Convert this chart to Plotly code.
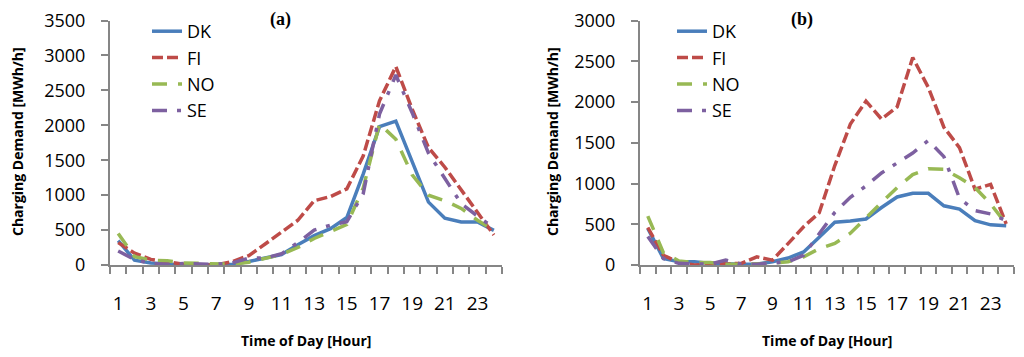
import plotly.graph_objects as go

hours = list(range(1, 25))
tick_hours = list(range(1, 24, 2))

# Panel (a)
dk_a = [350, 70, 30, 10, 0, 0, 0, 10, 50, 100, 150, 290, 420, 520, 680, 1300, 1980, 2060, 1480, 900, 670, 615, 615, 495]
fi_a = [320, 170, 80, 40, 10, 0, 0, 50, 135, 300, 470, 640, 920, 980, 1090, 1560, 2350, 2840, 2230, 1680, 1400, 1070, 750, 430]
no_a = [450, 120, 70, 60, 30, 20, 10, 10, 40, 90, 150, 250, 380, 480, 580, 1100, 2020, 1800, 1290, 1000, 920, 810, 640, 500]
se_a = [200, 80, 20, 10, 20, 10, 10, 30, 100, 100, 160, 320, 500, 570, 620, 1020, 2160, 2720, 2180, 1600, 1250, 880, 700, 530]

# Panel (b)
dk_b = [450, 80, 40, 40, 20, 10, 10, 10, 40, 85, 160, 340, 525, 540, 565, 705, 835, 880, 880, 727, 687, 545, 493, 481]
fi_b = [460, 120, 30, 0, 10, 10, 20, 100, 60, 262, 470, 640, 1220, 1730, 2010, 1790, 1940, 2545, 2180, 1690, 1440, 930, 990, 505]
no_b = [600, 150, 50, 30, 30, 10, 10, 10, 20, 40, 100, 200, 265, 390, 585, 767, 950, 1110, 1180, 1176, 1070, 950, 750, 505]
se_b = [350, 80, 20, 10, 10, 60, 10, 10, 20, 40, 120, 384, 646, 830, 970, 1130, 1252, 1373, 1527, 1330, 820, 667, 627, 545]

names = ["DK", "FI", "NO", "SE"]
colors = ["#4A7EBB", "#BE4B48", "#98B954", "#7D60A0"]
dashes = ["solid", "11px,4px", "15px,11px", "15px,10px,4px,10px"]

W, H = 1024, 357
FONT = "Open Sans"
OFF = 8  # page offset of the plot div

fig = go.Figure()

for i, (series_a, series_b) in enumerate(zip([dk_a, fi_a, no_a, se_a], [dk_b, fi_b, no_b, se_b])):
    fig.add_trace(go.Scatter(x=hours, y=series_a, mode="lines", name=names[i],
                             line=dict(color=colors[i], width=3.5, dash=dashes[i]),
                             xaxis="x", yaxis="y", legend="legend"))
    fig.add_trace(go.Scatter(x=hours, y=series_b, mode="lines", name=names[i],
                             line=dict(color=colors[i], width=3.5, dash=dashes[i]),
                             xaxis="x2", yaxis="y2", legend="legend2"))

def px_x(p):
    return (p - OFF) / W

def px_y(p):
    return 1 - (p - OFF) / H

ydom = [px_y(265), px_y(20.5)]
axis_color = "#868686"

xcommon = dict(
    range=[0.5, 24.5], tickmode="array", tickvals=tick_hours,
    ticktext=[str(h) for h in tick_hours], ticks="", showline=True,
    linecolor=axis_color, linewidth=2, showgrid=False, zeroline=False,
    tickfont=dict(family=FONT, size=19, color="#000"), ticklabelstandoff=20,
    automargin=False, ticklabeloverflow="allow",
    minor=dict(tickmode="array", tickvals=[h + 0.5 for h in range(0, 25)],
               ticks="outside", ticklen=7, tickwidth=2, tickcolor=axis_color, showgrid=False),
)
ycommon = dict(
    showline=True, linecolor=axis_color, linewidth=2, ticks="outside", ticklen=7,
    tickwidth=2, tickcolor=axis_color, showgrid=False, zeroline=False, dtick=500,
    tickfont=dict(family=FONT, size=18, color="#000"), ticklabelstandoff=12,
    automargin=False, ticklabeloverflow="allow",
)

fig.update_layout(
    width=W, height=H, margin=dict(l=0, r=0, t=0, b=0, pad=0, autoexpand=False),
    paper_bgcolor="white", plot_bgcolor="white",
    xaxis=dict(domain=[px_x(110), px_x(502)], anchor="y", **xcommon),
    yaxis=dict(domain=ydom, anchor="x", range=[0, 3500], **ycommon),
    xaxis2=dict(domain=[px_x(640), px_x(1014)], anchor="y2", **xcommon),
    yaxis2=dict(domain=ydom, anchor="x2", range=[0, 3000], **ycommon),
    legend=dict(x=px_x(147), y=px_y(13), xanchor="left", yanchor="top",
                bgcolor="rgba(0,0,0,0)", font=dict(family=FONT, size=18, color="#000"),
                tracegroupgap=0),
    legend2=dict(x=px_x(672), y=px_y(13), xanchor="left", yanchor="top",
                 bgcolor="rgba(0,0,0,0)", font=dict(family=FONT, size=18, color="#000"),
                 tracegroupgap=0),
)

annos = [
    dict(text="<b>(a)</b>", x=px_x(280), y=px_y(20), font=dict(family="Liberation Serif", size=18, color="#000")),
    dict(text="<b>(b)</b>", x=px_x(802), y=px_y(20), font=dict(family="Liberation Serif", size=18, color="#000")),
    dict(text="<b>Charging Demand [MWh/h]</b>", x=px_x(17), y=px_y(142), textangle=-90,
         font=dict(family=FONT, size=14, color="#000")),
    dict(text="<b>Charging Demand [MWh/h]</b>", x=px_x(552), y=px_y(142), textangle=-90,
         font=dict(family=FONT, size=14, color="#000")),
    dict(text="<b>Time of Day [Hour]</b>", x=px_x(306), y=px_y(340),
         font=dict(family=FONT, size=14, color="#000")),
    dict(text="<b>Time of Day [Hour]</b>", x=px_x(827), y=px_y(340),
         font=dict(family=FONT, size=14, color="#000")),
]
for a in annos:
    fig.add_annotation(xref="paper", yref="paper", showarrow=False,
                       xanchor="center", yanchor="middle", **a)

fig.write_html("out.html")
